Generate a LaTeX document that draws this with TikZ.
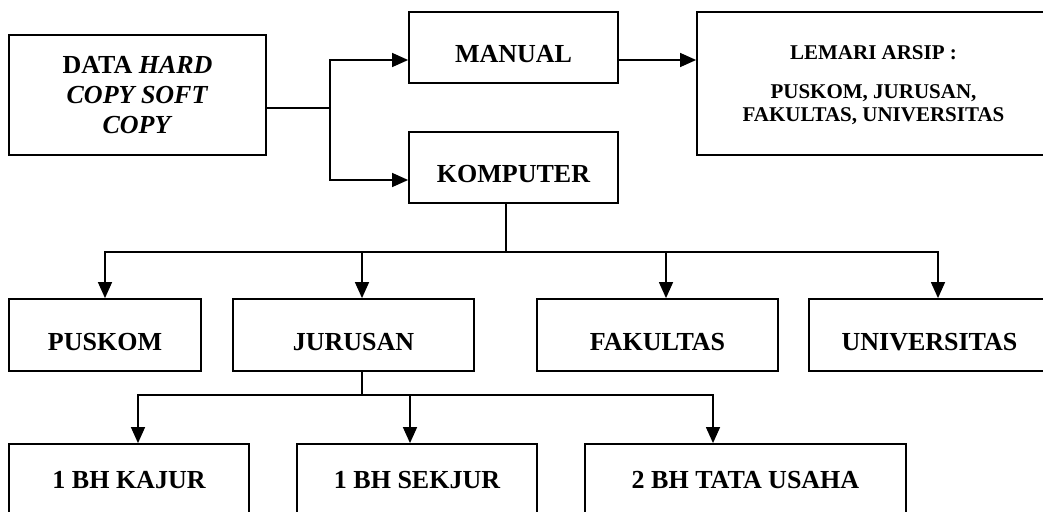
\documentclass[tikz,border=0pt]{standalone}
\usepackage{fontspec}
\setmainfont{Liberation Serif}
\usetikzlibrary{arrows.meta}

\begin{document}
\begin{tikzpicture}[x=1pt, y=-1pt,
    frame/.style={draw, line width=1.8pt, inner sep=0pt, font=\bfseries\fontsize{26}{30}\selectfont},
    box/.style={frame, text height=30pt, text depth=0pt},
    leaf/.style={frame, minimum height=76pt, text height=13pt, text depth=0pt},
    wire/.style={line width=1.4pt},
    flow/.style={wire, -{Triangle[length=16pt, width=14pt]}}]
    \useasboundingbox (0,0) rectangle (1043,511);
    \clip (0,0) rectangle (1043,511);

    \node[frame, align=center, minimum width=257pt, minimum height=120pt] (data) at (137.5,95)
        {DATA \textit{HARD}\\\textit{COPY SOFT}\\\textit{COPY}};
    \node[box, minimum width=209pt, minimum height=71pt] (manual) at (513.5,47.5) {MANUAL};
    \node[box, minimum width=209pt, minimum height=71pt] (komp) at (513.5,167.5) {KOMPUTER};
    \node[frame, align=center, minimum width=353pt, minimum height=143pt, text depth=0pt,
        font=\bfseries\fontsize{21}{23}\selectfont] (lemari) at (873.5,83.5)
        {LEMARI ARSIP :\\[16pt]PUSKOM, JURUSAN,\\FAKULTAS, UNIVERSITAS};

    \node[box, minimum width=192pt, minimum height=72pt] (pus) at (105,335) {PUSKOM};
    \node[box, minimum width=241pt, minimum height=72pt] (jur) at (353.5,335) {JURUSAN};
    \node[box, minimum width=241pt, minimum height=72pt] (fak) at (657.5,335) {FAKULTAS};
    \node[box, minimum width=241pt, minimum height=72pt] (uni) at (929.5,335) {UNIVERSITAS};

    \node[leaf, minimum width=240pt] (kajur) at (129,482) {1 BH KAJUR};
    \node[leaf, minimum width=240pt] (sekjur) at (417,482) {1 BH SEKJUR};
    \node[leaf, minimum width=321pt] (tata) at (745.5,482) {2 BH TATA USAHA};

    \coordinate (split) at (330,108);
    \coordinate (kbus) at (506,252);
    \coordinate (jbus) at (362,395);

    \draw[wire] ([yshift=-13pt]data.east) -- (split);
    \draw[flow] (split) |- ([yshift=-12.5pt]manual.west);
    \draw[flow] (split) |- ([yshift=-12.5pt]komp.west);
    \draw[flow] ([yshift=-12.5pt]manual.east) -- ([yshift=23.5pt]lemari.west);

    \draw[wire] ([xshift=-7.5pt]komp.south) -- (kbus);
    \foreach \n/\s in {pus/0, jur/8.5, fak/8.5, uni/8.5}
        \draw[flow] (kbus) -| ([xshift=\s pt]\n.north);

    \draw[wire] ([xshift=8.5pt]jur.south) -- (jbus);
    \foreach \n/\s in {kajur/9, sekjur/-7, tata/-32.5}
        \draw[flow] (jbus) -| ([xshift=\s pt]\n.north);
\end{tikzpicture}
\end{document}
